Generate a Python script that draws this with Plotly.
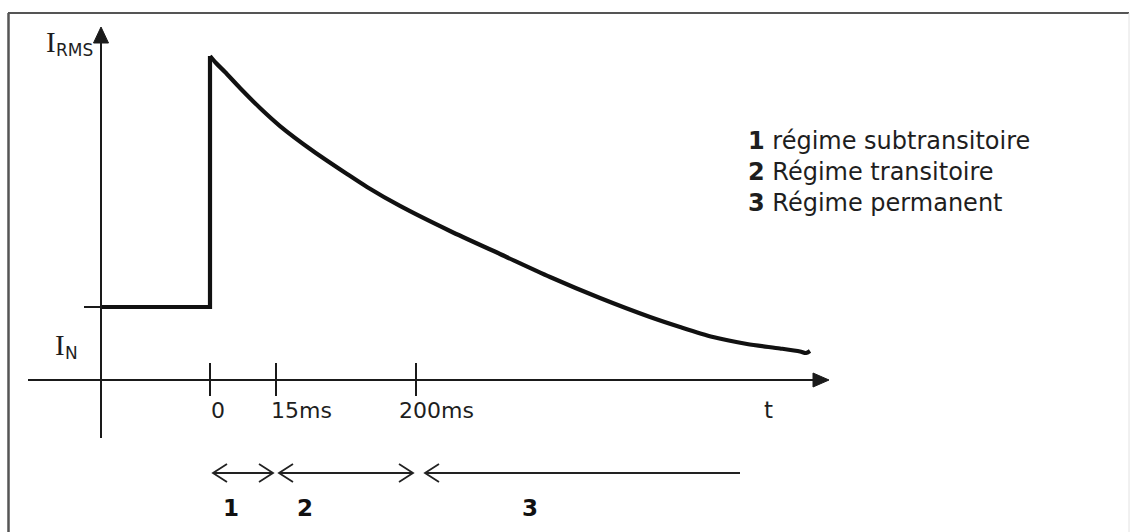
import plotly.graph_objects as go

# ---------------- data (schematic units: t = 0 at the fault, current normalised so I_N = 1) ----
t_pre = [-109, 0, 0]
i_pre = [1.0, 1.0, 4.438]

t_decay = [0, 6, 15, 30, 50, 70, 103, 137, 157, 190, 240, 290, 340,
           390, 440, 470, 503, 537, 570, 590, 596, 600]
i_decay = [4.438, 4.342, 4.219, 4.000, 3.726, 3.479, 3.137, 2.822, 2.644, 2.384,
           2.041, 1.726, 1.411, 1.123, 0.863, 0.726, 0.589, 0.493, 0.432, 0.390,
           0.370, 0.397]

tick_pos = [0, 66, 206]
tick_labels = ["0", "15ms", "200ms"]

phase_bounds = [0, 66, 206, 530]
phase_labels = ["1", "2", "3"]

legend_nums = ["1", "2", "3"]
legend_texts = ["régime subtransitoire", "Régime transitoire", "Régime permanent"]

I_N = 1.0

# ---------------- layout helpers (pixel -> axis units) ----------------
W, H = 1132, 532
X0_PX, Y0_PX, Y_SCALE = 210, 380, 73.0


def X(px):
    return px - X0_PX


def Y(py):
    return (Y0_PX - py) / Y_SCALE


AX = "#1a1a1a"
TXT = "#1e1e1e"
FONT = "DejaVu Sans"

fig = go.Figure()

fig.add_trace(go.Scatter(
    x=t_pre, y=i_pre, mode="lines",
    line=dict(color="#111111", width=4.2),
    hoverinfo="skip", showlegend=False,
))
fig.add_trace(go.Scatter(
    x=t_decay, y=i_decay, mode="lines",
    line=dict(color="#111111", width=4.2, shape="spline", smoothing=0.8),
    hoverinfo="skip", showlegend=False,
))

shapes = []
# frame
shapes.append(dict(type="line", xref="paper", yref="paper", x0=8 / W, x1=1129 / W,
                   y0=1 - 13 / H, y1=1 - 13 / H, line=dict(color="#555555", width=2)))
shapes.append(dict(type="line", xref="paper", yref="paper", x0=8.5 / W, x1=8.5 / W,
                   y0=1 - 13 / H, y1=0, line=dict(color="#555555", width=2.5)))
shapes.append(dict(type="line", xref="paper", yref="paper", x0=1129 / W, x1=1129 / W,
                   y0=1 - 13 / H, y1=0, line=dict(color="#e2e2e2", width=1)))

# axes
shapes.append(dict(type="line", x0=X(28), x1=X(816), y0=0, y1=0, line=dict(color=AX, width=2)))
shapes.append(dict(type="path", path=f"M {X(829)} {0} L {X(813)} {Y(373)} L {X(813)} {Y(387)} Z",
                   fillcolor=AX, line=dict(color=AX, width=1)))
shapes.append(dict(type="line", x0=X(101), x1=X(101), y0=Y(438), y1=Y(40), line=dict(color=AX, width=2)))
shapes.append(dict(type="path", path=f"M {X(101)} {Y(27)} L {X(93.5)} {Y(43)} L {X(108.5)} {Y(43)} Z",
                   fillcolor=AX, line=dict(color=AX, width=1)))
# I_N tick on vertical axis
shapes.append(dict(type="line", x0=X(84), x1=X(101), y0=I_N, y1=I_N, line=dict(color=AX, width=2)))
# time ticks
for tp in tick_pos:
    shapes.append(dict(type="line", x0=tp, x1=tp, y0=Y(363), y1=Y(396), line=dict(color=AX, width=2)))

# phase arrows (shaft + open chevrons)
ARW_Y = 473
CH_W, CH_H = 14, 9
gap = 3


def chevron(tip_x, direction):
    # direction -1: "<" pointing left, +1: ">" pointing right
    bx = tip_x - direction * CH_W
    return dict(type="path",
                path=f"M {bx} {Y(ARW_Y - CH_H)} L {tip_x} {Y(ARW_Y)} L {bx} {Y(ARW_Y + CH_H)}",
                line=dict(color="#222222", width=1.8))


for k in range(3):
    a, b = phase_bounds[k], phase_bounds[k + 1]
    last = (k == 2)
    left_tip = a + gap + (6 if k == 2 else 0)
    right_tip = b if last else b - gap
    shapes.append(dict(type="line", x0=left_tip, x1=right_tip, y0=Y(ARW_Y), y1=Y(ARW_Y),
                       line=dict(color="#222222", width=1.8)))
    shapes.append(chevron(left_tip, -1))
    if not last:
        shapes.append(chevron(right_tip, 1))

annotations = []
# tick labels
tick_dx = [-1, -7, -19]
for tp, lab, dx in zip(tick_pos, tick_labels, tick_dx):
    annotations.append(dict(x=tp + dx, y=Y(410), text=lab, showarrow=False, xanchor="left",
                            yanchor="middle", font=dict(family=FONT, size=22, color=TXT)))
annotations.append(dict(x=X(768), y=Y(410), text="t", showarrow=False, xanchor="center",
                        yanchor="middle", font=dict(family=FONT, size=23, color=TXT)))

# axis labels
annotations.append(dict(x=X(51), y=Y(42), text="I", showarrow=False, xanchor="center", yanchor="middle",
                        font=dict(family="Liberation Serif", size=29, color=TXT)))
annotations.append(dict(x=X(74), y=Y(50), text="RMS", showarrow=False, xanchor="center", yanchor="middle",
                        font=dict(family=FONT, size=17, color=TXT)))
annotations.append(dict(x=X(60), y=Y(345), text="I", showarrow=False, xanchor="center", yanchor="middle",
                        font=dict(family="Liberation Serif", size=29, color=TXT)))
annotations.append(dict(x=X(71.5), y=Y(353), text="N", showarrow=False, xanchor="center", yanchor="middle",
                        font=dict(family=FONT, size=17, color=TXT)))

label_dx = [21, 29, 114]
for k in range(3):
    annotations.append(dict(x=phase_bounds[k] + label_dx[k], y=Y(508), text=f"<b>{phase_labels[k]}</b>",
                            showarrow=False, xanchor="center", yanchor="middle",
                            font=dict(family=FONT, size=23, color="#111111")))

# legend text
leg = "<br>".join(f"<b>{n}</b> {t}" for n, t in zip(legend_nums, legend_texts))
annotations.append(dict(x=X(746), y=Y(172), text=leg, showarrow=False, xanchor="left", yanchor="middle",
                        align="left", font=dict(family=FONT, size=24, color=TXT)))

fig.update_layout(
    width=W, height=H, margin=dict(l=0, r=0, t=0, b=0),
    paper_bgcolor="white", plot_bgcolor="white",
    xaxis=dict(range=[X(0), X(W)], visible=False, fixedrange=True),
    yaxis=dict(range=[Y(H), Y(0)], visible=False, fixedrange=True),
    shapes=shapes, annotations=annotations, showlegend=False,
)

fig.write_html("out.html", config={"displayModeBar": False},
               post_script="document.body.style.margin='0';document.body.style.overflow='hidden';")
